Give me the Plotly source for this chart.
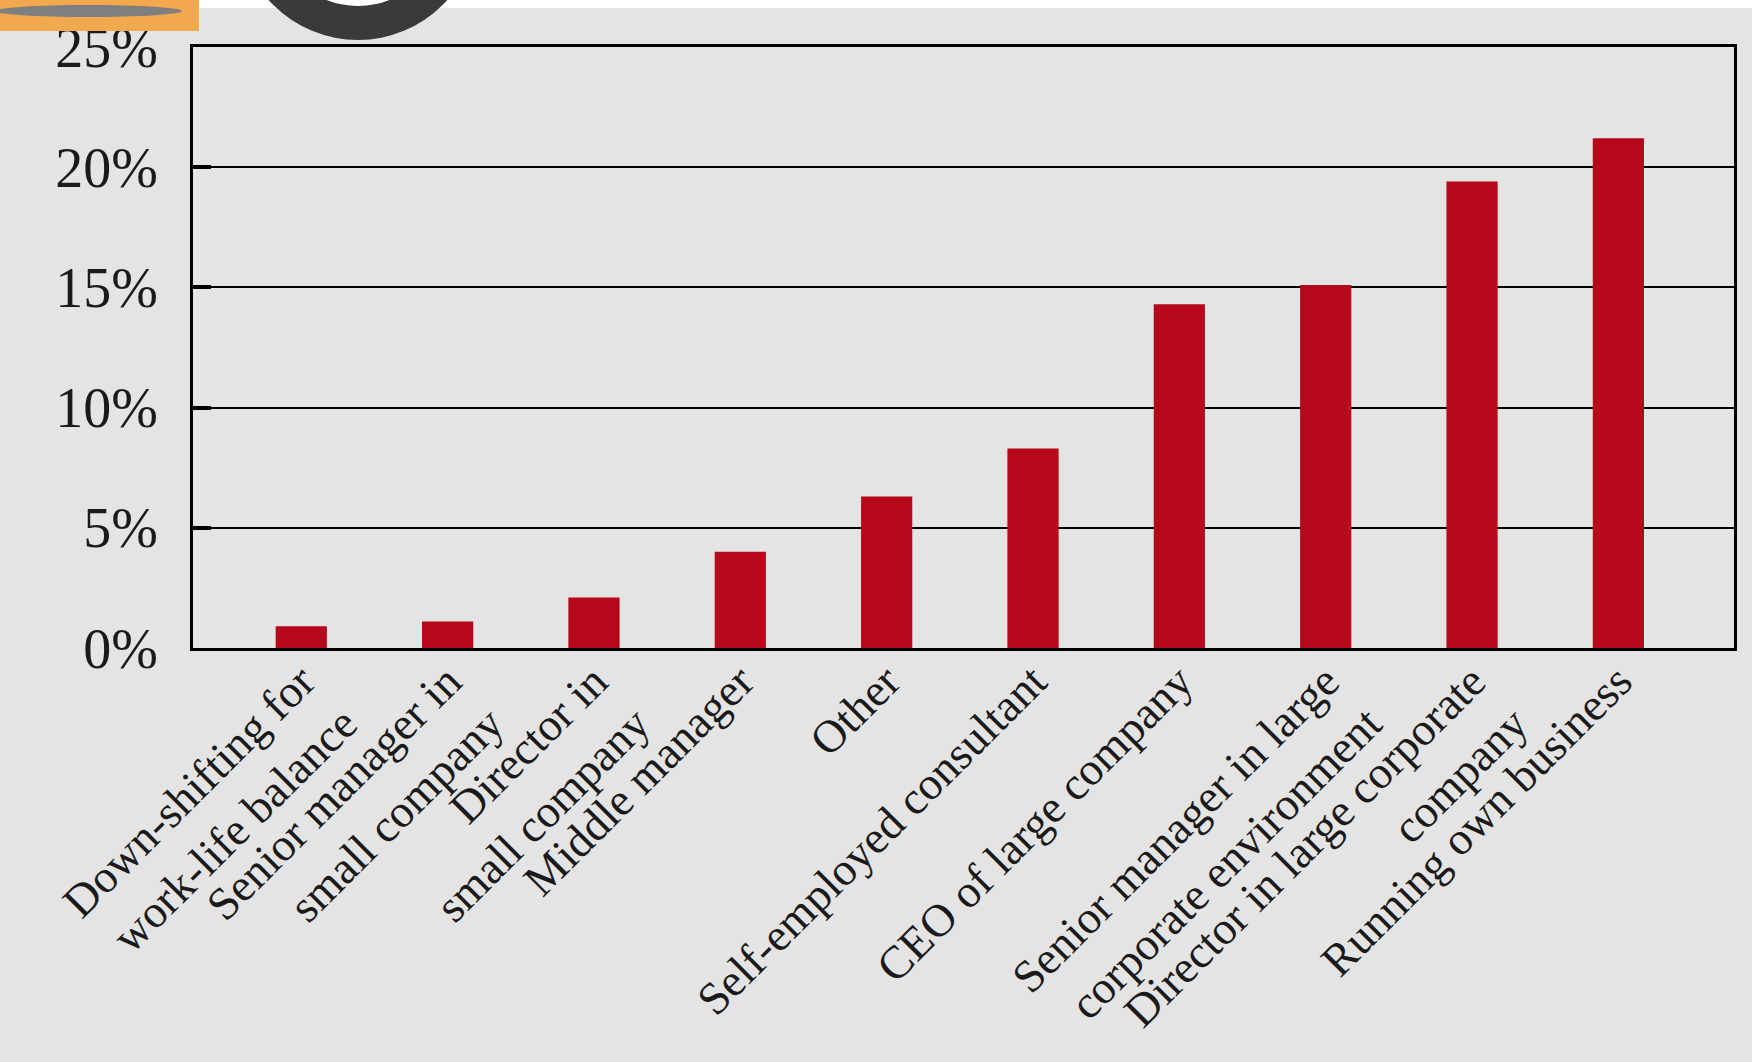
import plotly.graph_objects as go

categories = [
    "Down-shifting for<br>work-life balance",
    "Senior manager in<br>small company",
    "Director in<br>small company",
    "Middle manager",
    "Other",
    "Self-employed consultant",
    "CEO of large company",
    "Senior manager in large<br>corporate environment",
    "Director in large corporate<br>company",
    "Running own business",
]
values = [0.9, 1.1, 2.1, 4.0, 6.3, 8.3, 14.3, 15.1, 19.4, 21.2]
y_ticks = [0, 5, 10, 15, 20, 25]
y_tick_labels = ["0%", "5%", "10%", "15%", "20%", "25%"]

BG = "#e4e4e4"
BAR = "#b5091b"
FONT = "Liberation Serif"

# plot area in pixels: left 193, right 1734, top 47, bottom 648
L, R, T, B = 193, 1734, 47, 648
W, H = R - L, B - T


def px(x):
    return (x - L) / W


def py(y):
    return (B - y) / H


fig = go.Figure(
    go.Bar(
        x=list(range(len(categories))),
        y=values,
        width=0.35,
        marker=dict(color=BAR, line=dict(width=0)),
    )
)

fig.update_layout(
    width=1752,
    height=1062,
    margin=dict(l=L, r=1752 - R, t=T, b=1062 - B, autoexpand=False),
    paper_bgcolor=BG,
    plot_bgcolor=BG,
    showlegend=False,
    font=dict(family=FONT, color="#1a1a1a"),
)

fig.update_xaxes(
    range=[-0.74, 9.79],
    tickmode="array",
    tickvals=list(range(len(categories))),
    ticktext=categories,
    tickangle=-45,
    tickfont=dict(family=FONT, size=46, color="#1a1a1a"),
    showline=True,
    linecolor="black",
    linewidth=3,
    mirror=True,
    ticks="",
    showgrid=False,
    zeroline=False,
    automargin=False,
    ticklabelstandoff=-15,
)

fig.update_yaxes(
    range=[0, 25],
    tickmode="array",
    tickvals=y_ticks,
    ticktext=y_tick_labels,
    tickfont=dict(family=FONT, size=56, color="#1a1a1a"),
    showline=True,
    linecolor="black",
    linewidth=3,
    mirror=True,
    ticks="inside",
    ticklen=18,
    tickwidth=4,
    tickcolor="black",
    showgrid=True,
    gridcolor="black",
    gridwidth=1.6,
    zeroline=False,
    automargin=False,
    ticklabelstandoff=21,
)

shapes = []
# white strip at the top of the slide
shapes.append(dict(type="rect", xref="paper", yref="paper",
                   x0=px(-5), x1=px(1760), y0=py(8), y1=py(-5),
                   fillcolor="white", line=dict(width=0), layer="above"))
# orange box at top-left
shapes.append(dict(type="rect", xref="paper", yref="paper",
                   x0=px(-20), x1=px(199), y0=py(31), y1=py(-20),
                   fillcolor="#f2a84c", line=dict(width=0), layer="above"))
shapes.append(dict(type="circle", xref="paper", yref="paper",
                   x0=px(-5), x1=px(182), y0=py(17), y1=py(5),
                   fillcolor="#7f7f7f", line=dict(width=0), layer="above"))
# logo ring
shapes.append(dict(type="circle", xref="paper", yref="paper",
                   x0=px(238), x1=px(478), y0=py(40), y1=py(-200),
                   fillcolor="#3a3a3a", line=dict(width=0), layer="above"))
shapes.append(dict(type="circle", xref="paper", yref="paper",
                   x0=px(272), x1=px(444), y0=py(6), y1=py(-166),
                   fillcolor="white", line=dict(width=0), layer="above"))
fig.update_layout(shapes=shapes)

fig.write_html("out.html")
